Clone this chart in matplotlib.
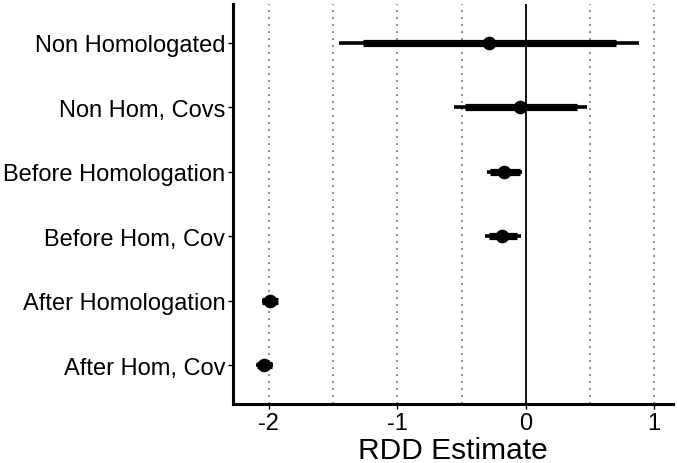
import matplotlib
matplotlib.use("Agg")
import matplotlib.pyplot as plt

# Data
labels = ["Non Homologated", "Non Hom, Covs", "Before Homologation",
          "Before Hom, Cov", "After Homologation", "After Hom, Cov"]
estimates = [-0.286, -0.044, -0.167, -0.182, -1.99, -2.037]
thick_lo = [-1.264, -0.475, -0.278, -0.29, -2.05, -2.095]
thick_hi = [0.70, 0.397, -0.044, -0.07, -1.93, -1.975]
thin_lo = [-1.453, -0.56, -0.30, -0.317, -2.055, -2.1]
thin_hi = [0.884, 0.48, -0.026, -0.039, -1.925, -1.97]
xticks = [-2, -1, 0, 1]
xtick_labels = ["-2", "-1", "0", "1"]
grid_x = [-2, -1.5, -1, -0.5, 0.5, 1]

plt.rcParams['font.family'] = ['Liberation Sans', 'DejaVu Sans']

fig = plt.figure(figsize=(6.77, 4.64), dpi=100)
ax = fig.add_axes([0.344, 0.127, 0.650, 0.862])

n = len(labels)
ypos = [n - i for i in range(n)]

for gx in grid_x:
    ax.axvline(gx, color="#8c8c8c", lw=1.4, linestyle=(0, (1, 2.6)), zorder=0)
ax.axvline(0, color="black", lw=1.3, zorder=1)

ax.hlines(ypos, thin_lo, thin_hi, color="black", lw=2.6, zorder=2)
ax.hlines(ypos, thick_lo, thick_hi, color="black", lw=5.2, zorder=3)
ax.plot(estimates, ypos, 'o', color="black", markersize=8.8, zorder=4)

ax.set_xlim(-2.28, 1.145)
ax.set_ylim(0.4, 6.6)
ax.set_yticks(ypos)
ax.set_yticklabels(labels, fontsize=17)
ax.set_xticks(xticks)
ax.set_xticklabels(xtick_labels, fontsize=17)
ax.set_xlabel("RDD Estimate", fontsize=21.5, labelpad=2)

for s in ["top", "right"]:
    ax.spines[s].set_visible(False)
for s in ["left", "bottom"]:
    ax.spines[s].set_linewidth(2.2)
    ax.spines[s].set_color("black")
ax.tick_params(axis="both", length=3.5, width=1.0, color="black", labelcolor="black", pad=2)

fig.savefig("out.png", dpi=100)
